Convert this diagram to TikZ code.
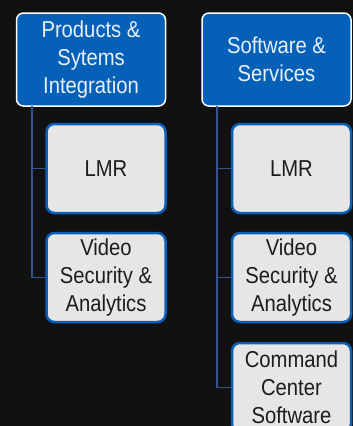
\documentclass[tikz,border=0pt]{standalone}
\usepackage{fontspec}
\setsansfont[FakeStretch=0.88]{Liberation Sans}
\tikzset{every picture/.style={/utils/exec={\sffamily}}}
\definecolor{bgdark}{HTML}{111111}
\definecolor{grpblue}{HTML}{0560B8}
\definecolor{grptext}{HTML}{EAF0FA}
\definecolor{itemgray}{HTML}{E6E6E6}
\definecolor{itemedge}{HTML}{0B5FB9}
\definecolor{itemtext}{HTML}{1C1C1C}
\definecolor{stemblue}{HTML}{33558F}

\begin{document}
\begin{tikzpicture}[x=1pt, y=-1pt,
		groupbox/.style={draw=white, line width=1.5pt, fill=grpblue, rounded corners=7pt,
			text=grptext, align=center, inner sep=0pt, minimum width=149pt, minimum height=93pt,
			font=\fontsize{23}{28}\selectfont},
		itembox/.style={draw=itemedge, line width=2.5pt, fill=itemgray, rounded corners=8pt,
			text=itemtext, align=center, inner sep=0pt, minimum width=119pt, minimum height=89pt,
			font=\fontsize{23}{28}\selectfont},
		stem/.style={draw=stemblue, line width=1.3pt}]
		\clip (0,0) rectangle (353,426);
		\fill[bgdark] (0,0) rectangle (353,426);

		% left column
		\node[groupbox] (prodgrp) at (91, 59.5) {Products \&\\Sytems\\Integration};
		\node[itembox] (prodlmr) at (106, 168.5) {LMR};
		\node[itembox] (prodvideo) at (106, 277.5) {Video\\Security \&\\Analytics};

		% right column
		\node[groupbox] (softgrp) at (276.5, 59.5) {Software \&\\Services};
		\node[itembox] (softlmr) at (291.5, 168.5) {LMR};
		\node[itembox] (softvideo) at (291.5, 277.5) {Video\\Security \&\\Analytics};
		\node[itembox] (softcmd) at (291.5, 387.5) {Command\\Center\\Software};

		\coordinate (prodstem) at (32, 106);
		\coordinate (softstem) at (217, 106);

		\draw[stem] (prodstem) |- (prodlmr.west);
		\draw[stem] (prodstem) |- (prodvideo.west);
		\draw[stem] (softstem) |- (softlmr.west);
		\draw[stem] (softstem) |- (softvideo.west);
		\draw[stem] (softstem) |- (softcmd.west);
	\end{tikzpicture}
\end{document}
